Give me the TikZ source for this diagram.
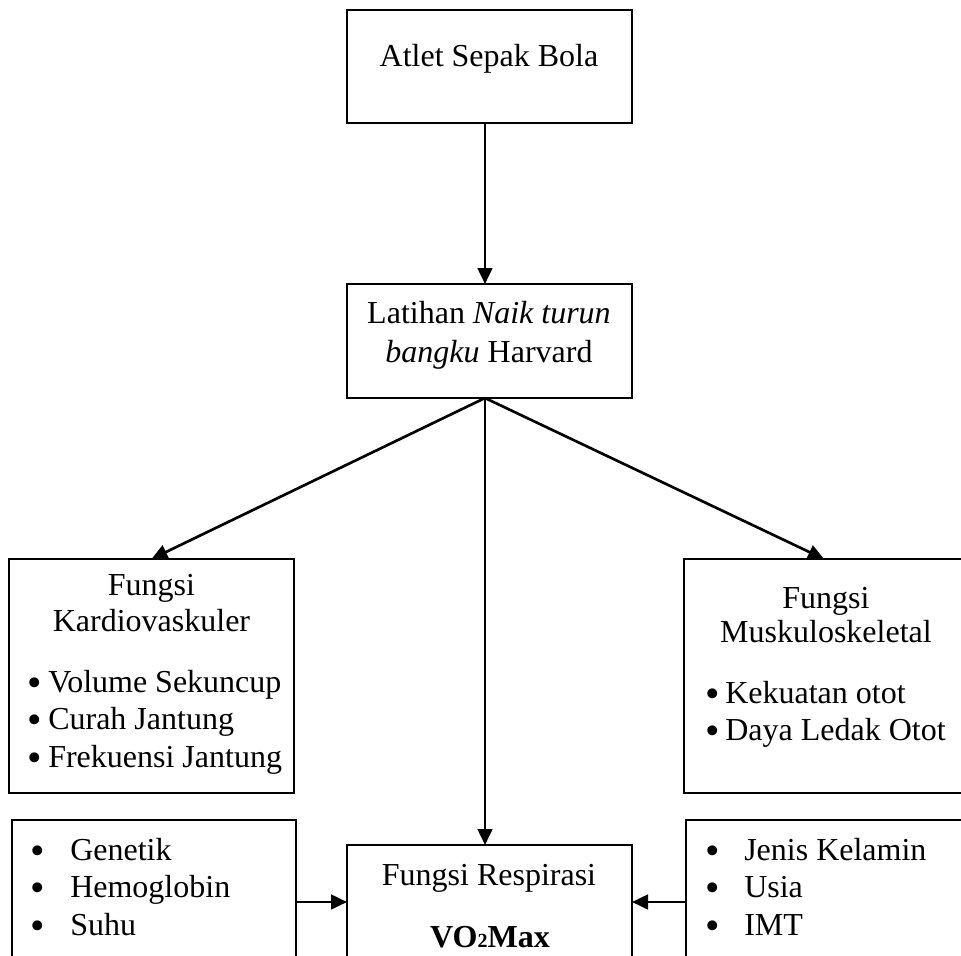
\documentclass[tikz,border=0pt]{standalone}
\usepackage{fontspec}
\setmainfont{Liberation Serif}
\usetikzlibrary{arrows.meta,fit}
\begin{document}
\begin{tikzpicture}[x=0.75pt,y=-0.75pt,
  box/.style={draw, line width=1.1pt, inner sep=0pt, outer sep=0pt, rectangle},
  conn/.style={line width=2pt, -{Triangle[length=12pt,width=11pt]}},
  txt/.style={font=\fontsize{24}{29}\selectfont, inner sep=0pt, anchor=base},
  item/.style={font=\fontsize{24}{29}\selectfont, inner sep=0pt, anchor=base west},
  bul/.style={font=\fontsize{31}{31}\selectfont, inner sep=0pt, anchor=base,
    text height=13pt, text depth=0pt, yshift=-3.5pt},
]
\useasboundingbox (0,0) rectangle (961,956);
% boxes
\node[box, fit={(347,10) (632,123)}] (atlet) {};
\node[box, fit={(347,284) (632,398)}] (lat) {};
\node[box, fit={(9,559) (294,793)}] (kardio) {};
\node[box, fit={(684,559) (964,793)}] (musk) {};
\node[box, fit={(12,820) (296,984)}] (bl) {};
\node[box, fit={(347,845) (632,959)}] (resp) {};
\node[box, fit={(686,820) (966,984)}] (br) {};
\coordinate (ax) at (485,0);
% connectors
\draw[conn] (atlet.south -| ax) -- (lat.north -| ax);
\draw[conn] (lat.south -| ax) -- (kardio.north);
\draw[conn] (lat.south -| ax) -- (musk.north);
\draw[conn] (lat.south -| ax) -- (resp.north -| ax);
\draw[conn] (bl.east) -- (resp.west);
\draw[conn] (br.west) -- (resp.east);
% texts
\node[txt] (t1) at (489,67) {Atlet Sepak Bola};
\node[txt] (t2a) at (489,323) {Latihan \textit{Naik turun}};
\node[txt] (t2b) at (489,362) {\textit{bangku} Harvard};
\node[txt] (t3a) at (151.5,595) {Fungsi};
\node[txt] (t3b) at (151.5,631) {Kardiovaskuler};
\node[bul] (b31) at (35,692) {•};
\node[item] (i31) at (48,692) {Volume Sekuncup};
\node[bul] (b32) at (35,729) {•};
\node[item] (i32) at (48,729) {Curah Jantung};
\node[bul] (b33) at (35,767) {•};
\node[item] (i33) at (48,767) {Frekuensi Jantung};
\node[txt] (t4a) at (826,608) {Fungsi};
\node[txt] (t4b) at (826,642) {Muskuloskeletal};
\node[bul] (b41) at (713,703) {•};
\node[item] (i41) at (725,703) {Kekuatan otot};
\node[bul] (b42) at (713,740) {•};
\node[item] (i42) at (725,740) {Daya Ledak Otot};
\node[bul] (b51) at (38,860) {•};
\node[item] (i51) at (70,860) {Genetik};
\node[bul] (b52) at (38,897) {•};
\node[item] (i52) at (70,897) {Hemoglobin};
\node[bul] (b53) at (38,935) {•};
\node[item] (i53) at (70,935) {Suhu};
\node[txt] (t6a) at (489,885) {Fungsi Respirasi};
\node[txt] (t6b) at (490,947) {\textbf{VO{\fontsize{15}{15}\selectfont 2}Max}};
\node[bul] (b71) at (713,860) {•};
\node[item] (i71) at (744,860) {Jenis Kelamin};
\node[bul] (b72) at (713,897) {•};
\node[item] (i72) at (744,897) {Usia};
\node[bul] (b73) at (713,935) {•};
\node[item] (i73) at (744,935) {IMT};
\end{tikzpicture}
\end{document}
